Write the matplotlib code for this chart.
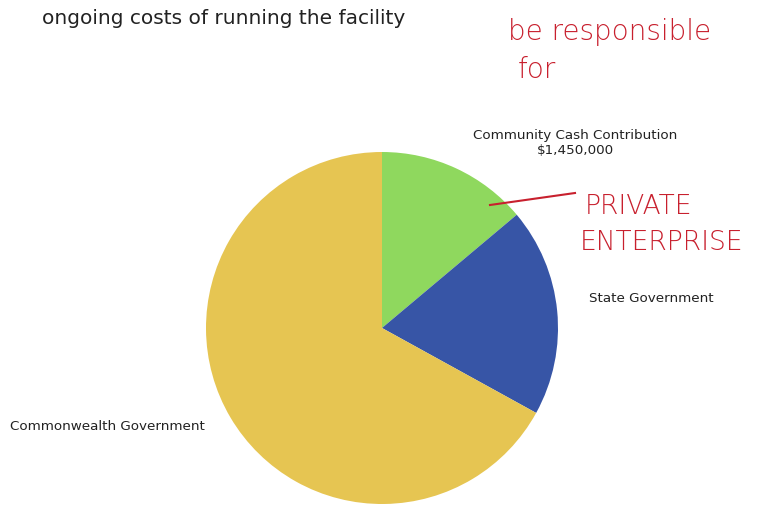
import matplotlib.pyplot as plt

# Funding sources
sources = ["Community Cash Contribution", "State Government", "Commonwealth Government"]
amounts = [1450000, 2000000, 7000000]
colors = ["#8fd85e", "#3755a6", "#e6c552"]

fig = plt.figure(figsize=(7.63, 5.07), dpi=100)
W, H = 763, 507

# pie axes placed so centre ~(382, 328) px, radius ~176 px
cx, cy, r = 382, 328, 176
ax = fig.add_axes([(cx - r) / W, (H - cy - r) / H, 2 * r / W, 2 * r / H])
ax.pie(amounts, colors=colors, startangle=90, counterclock=False,
       wedgeprops=dict(linewidth=0))
ax.set_xlim(-1, 1)
ax.set_ylim(-1, 1)
ax.set_aspect("equal")
ax.axis("off")

# printed text
fig.text(42 / W, 1 - 18 / H, "ongoing costs of running the facility",
         fontsize=14.5, color="#222222", va="center", ha="left")
fig.text(575 / W, 1 - 143 / H, sources[0] + "\n$1,450,000",
         fontsize=9.7, color="#222222", ha="center", va="center", linespacing=1.3)
fig.text(589 / W, 1 - 298 / H, sources[1],
         fontsize=9.7, color="#222222", ha="left", va="center")
fig.text(10 / W, 1 - 427 / H, sources[2],
         fontsize=9.7, color="#222222", ha="left", va="center")

# handwritten red annotations
red = "#c8202e"
fig.text(508 / W, 1 - 32 / H, "be responsible", fontsize=20, color=red,
         ha="left", va="center", fontweight="light")
fig.text(518 / W, 1 - 70 / H, "for", fontsize=20, color=red,
         ha="left", va="center", fontweight="light")
fig.text(585 / W, 1 - 207 / H, "PRIVATE", fontsize=19, color=red,
         ha="left", va="center", fontweight="light")
fig.text(580 / W, 1 - 242 / H, "ENTERPRISE", fontsize=19, color=red,
         ha="left", va="center", fontweight="light")
fig.add_artist(plt.Line2D([490 / W, 575 / W], [1 - 205 / H, 1 - 193 / H],
                          color=red, linewidth=1.5))

fig.savefig("out.png", dpi=100)
